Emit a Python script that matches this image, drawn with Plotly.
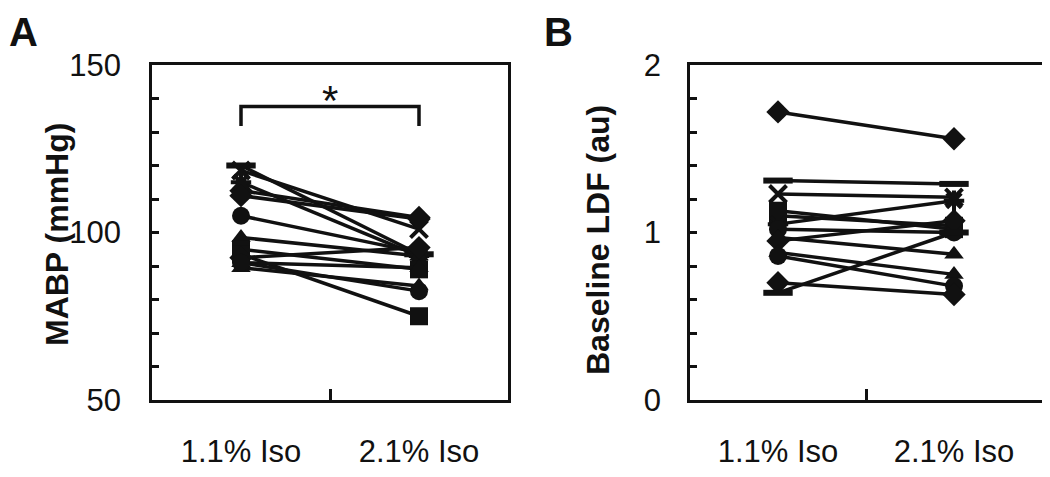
import plotly.graph_objects as go

categories = ["1.1% Iso", "2.1% Iso"]

# Panel A: MABP (mmHg), per subject at 1.1% and 2.1% Iso
mabp_11 = [120, 118.5, 112.5, 115, 111, 105, 98.5, 95, 93.5, 92.5, 91, 89.5, 91]
mabp_21 = [93.5, 101, 104.5, 93, 104, 94, 93, 89, 75, 95.5, 89.5, 84, 82.5]

# Panel B: Baseline LDF (au)
ldf_11 = [1.72, 1.31, 1.23, 1.10, 1.13, 1.05, 1.02, 0.97, 0.95, 0.88, 0.86, 0.70, 0.64]
ldf_21 = [1.56, 1.29, 1.21, 1.04, 1.02, 1.19, 1.00, 0.87, 1.07, 0.75, 0.68, 0.63, 1.00]

# significance bracket level (mmHg) and star
bracket_low, bracket_high, star_y = 131.8, 137.6, 139.5

symbols_a = ["line-ew-open", "x-thin-open", "diamond", "asterisk-open", "diamond", "circle",
             "triangle-up", "square", "square", "diamond", "triangle-up", "triangle-up", "circle"]
symbols_b = ["diamond", "line-ew-open", "x-thin-open", "square", "square", "asterisk-open", "circle",
             "triangle-up", "diamond", "triangle-up", "circle", "diamond", "line-ew-open"]

xpos = [0.5, 1.5]
INK = "#111111"

fig = go.Figure()


def add_series(y1, y2, sym, xa, ya):
    open_sym = sym.endswith("-open")
    if sym.startswith("line"):
        size, lw = 21, 6
    elif open_sym:
        size, lw = 17, 4
    elif sym == "triangle-up":
        size, lw = 17, 0
    else:
        size, lw = 18, 0
    fig.add_trace(go.Scatter(
        x=xpos, y=[y1, y2], mode="lines+markers",
        xaxis=xa, yaxis=ya, showlegend=False,
        line=dict(color=INK, width=3.5),
        marker=dict(symbol=sym, size=size, color=INK, line=dict(color=INK, width=lw)),
    ))


for a, b, s in zip(mabp_11, mabp_21, symbols_a):
    add_series(a, b, s, "x", "y")
for a, b, s in zip(ldf_11, ldf_21, symbols_b):
    add_series(a, b, s, "x2", "y2")

# the page body adds an 8px margin; lay out in figure pixels = page pixels - 8
OFF = 8
W, H = 1050 - OFF, 477 - OFF
top, bottom = 65 - OFF, 400 - OFF
ydom = [1 - bottom / H, 1 - top / H]


def px(x):
    return (x - OFF) / W


def py(y):
    return 1 - (y - OFF) / H


tickfont = dict(family="Liberation Sans, Arial, sans-serif", size=31, color=INK)

xcommon = dict(range=[0, 2], tickvals=xpos, ticktext=categories, ticks="",
               showline=True, mirror=True, linecolor=INK, linewidth=2.5,
               showgrid=False, zeroline=False, tickfont=tickfont, ticklabelstandoff=22,
               automargin=False,
               minor=dict(tickvals=[1], ticks="inside", ticklen=11, tickwidth=2.5, tickcolor=INK))

ya_vals = list(range(50, 151, 10))
ya_text = [str(v) if v % 50 == 0 else "" for v in ya_vals]
yb_vals = [i / 5 for i in range(0, 11)]
yb_text = ["0" if i == 0 else ("1" if i == 5 else ("2" if i == 10 else "")) for i in range(0, 11)]

ycommon = dict(showline=True, mirror=True, linecolor=INK, linewidth=2.5,
               ticks="inside", ticklen=7, tickwidth=2.5, tickcolor=INK,
               showgrid=False, zeroline=False, tickfont=tickfont, domain=ydom,
               automargin=False)

fig.update_layout(
    width=W, height=H,
    margin=dict(l=0, r=0, t=0, b=0, autoexpand=False),
    plot_bgcolor="white", paper_bgcolor="white",
    xaxis=dict(domain=[px(152), px(508)], anchor="y", **xcommon),
    xaxis2=dict(domain=[px(690), px(1042)], anchor="y2", **xcommon),
    yaxis=dict(range=[50, 150], tickvals=ya_vals, ticktext=ya_text, anchor="x",
               ticklabelstandoff=22, **ycommon),
    yaxis2=dict(range=[0, 2], tickvals=yb_vals, ticktext=yb_text, anchor="x2",
                ticklabelstandoff=20, **ycommon),
)

fig.add_shape(type="path", xref="x", yref="y",
              path=f"M 0.5,{bracket_low} L 0.5,{bracket_high} L 1.5,{bracket_high} L 1.5,{bracket_low}",
              line=dict(color=INK, width=3.5))

FONT = "Liberation Sans, Arial, sans-serif"
titlefont = dict(family=FONT, size=32, color=INK)

annotations = [
    dict(text="*", x=1, y=star_y, xref="x", yref="y", showarrow=False, yanchor="middle",
         font=dict(family=FONT, size=42, color=INK)),
    dict(text="<b>MABP (mmHg)</b>", x=px(37), y=py(235), xref="paper", yref="paper",
         textangle=-90, showarrow=False, font=titlefont),
    dict(text="<b>Baseline LDF (au)</b>", x=px(598), y=py(240), xref="paper", yref="paper",
         textangle=-90, showarrow=False, font=titlefont),
    dict(text="<b>A</b>", x=px(8), y=py(9), xref="paper", yref="paper", xanchor="left", yanchor="top",
         borderpad=0, showarrow=False, font=dict(family=FONT, size=40, color=INK)),
    dict(text="<b>B</b>", x=px(543), y=py(9), xref="paper", yref="paper", xanchor="left", yanchor="top",
         borderpad=0, showarrow=False, font=dict(family=FONT, size=40, color=INK)),
]
fig.update_layout(annotations=annotations)

fig.write_html("out.html")
